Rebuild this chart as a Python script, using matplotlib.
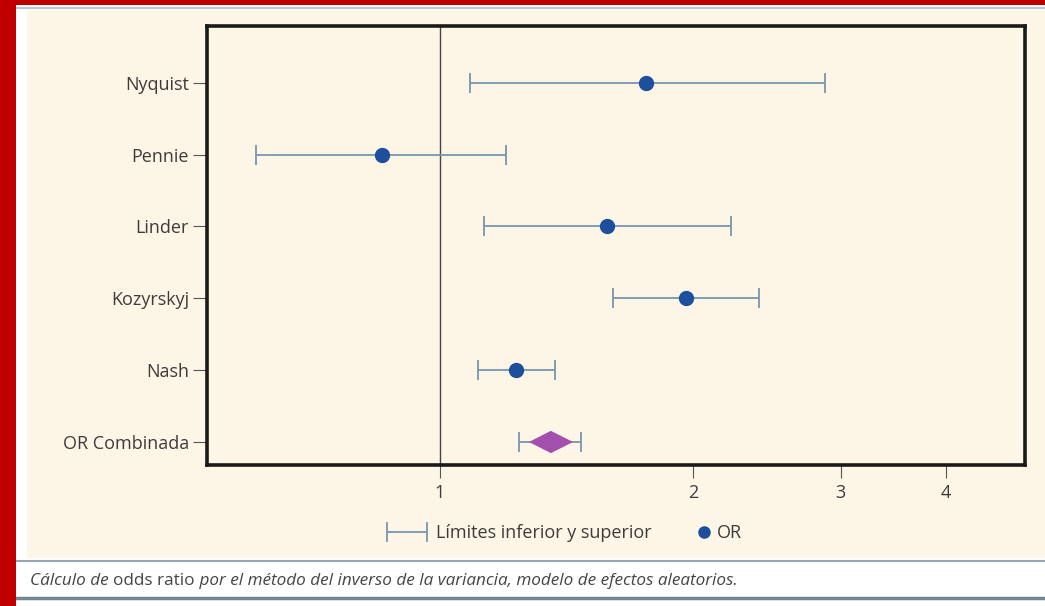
#!/usr/bin/env python3
"""Forest plot: odds ratios by study, random-effects pooled estimate."""

import matplotlib
matplotlib.use("Agg")
import matplotlib.pyplot as plt
from matplotlib.patches import Rectangle
from matplotlib.lines import Line2D
from matplotlib.container import ErrorbarContainer
from matplotlib.legend_handler import HandlerErrorbar
from matplotlib.ticker import FixedLocator, NullLocator

plt.rcParams["font.family"] = ["Open Sans", "DejaVu Sans"]

STUDIES = ["Nyquist", "Pennie", "Linder", "Kozyrskyj", "Nash", "OR Combinada"]
OR_VALUES = [1.76, 0.853, 1.58, 1.96, 1.232]
CI_LOW = [1.086, 0.604, 1.128, 1.606, 1.11, 1.242]
CI_HIGH = [2.87, 1.198, 2.22, 2.40, 1.37, 1.47]
POOLED_OR = 1.355
DIAMOND_LOW = 1.276
DIAMOND_HIGH = 1.44
X_TICKS = [1, 2, 3, 4]

CREAM = "#fdf5e6"
TEXT = "#3c3c3c"
BAR = "#7896b0"
DOT = "#1c4f9c"
DIAMOND = "#a24fae"


def main():
    fig = plt.figure(figsize=(10.45, 6.06), dpi=100)
    fig.patch.set_facecolor("white")

    # page decoration: red border, cream panel, caption rules
    fig.patches.append(Rectangle((0.026, 0.079), 0.974, 0.905, transform=fig.transFigure,
                                 facecolor=CREAM, edgecolor="none", zorder=-2))
    fig.patches.append(Rectangle((0, 0), 0.0155, 1, transform=fig.transFigure,
                                 facecolor="#c00000", edgecolor="none", zorder=-1))
    fig.patches.append(Rectangle((0, 0.991), 1, 0.009, transform=fig.transFigure,
                                 facecolor="#c00000", edgecolor="none", zorder=-1))
    fig.add_artist(Line2D([0.0155, 1], [0.986, 0.986], transform=fig.transFigure,
                          color="#b9c7d3", lw=1.5, zorder=-1))
    fig.add_artist(Line2D([0.0155, 1], [0.074, 0.074], transform=fig.transFigure,
                          color="#9aa6b2", lw=1.5, zorder=-1))
    fig.add_artist(Line2D([0.0155, 1], [0.013, 0.013], transform=fig.transFigure,
                          color="#6f8799", lw=2.5, zorder=-1))

    ax = fig.add_axes([0.1981, 0.2327, 0.7828, 0.7244])
    ax.set_facecolor(CREAM)
    ax.set_xscale("log")
    ax.set_xlim(0.528, 4.97)
    ax.set_ylim(5.32, -0.79)

    ypos = list(range(len(STUDIES)))

    ax.axvline(1, color="#444444", lw=1.0, zorder=1)

    centers = OR_VALUES + [POOLED_OR]
    xerr_lo = [o - l for o, l in zip(centers, CI_LOW)]
    xerr_hi = [h - o for o, h in zip(centers, CI_HIGH)]
    eb = ax.errorbar(centers, ypos, xerr=[xerr_lo, xerr_hi], fmt="none",
                     ecolor=BAR, elinewidth=1.3, capsize=7, capthick=1.3, zorder=2,
                     label="Límites inferior y superior")
    pts, = ax.plot(OR_VALUES, ypos[:-1], "o", color=DOT, markersize=10, zorder=3, label="OR")

    yd = ypos[-1]
    half_h = 0.155
    ax.fill([DIAMOND_LOW, POOLED_OR, DIAMOND_HIGH, POOLED_OR],
            [yd, yd - half_h, yd, yd + half_h], color=DIAMOND, lw=0, zorder=3)

    ax.set_yticks(ypos)
    ax.set_yticklabels(STUDIES, fontsize=13, color=TEXT)
    ax.xaxis.set_major_locator(FixedLocator(X_TICKS))
    ax.xaxis.set_minor_locator(NullLocator())
    ax.set_xticklabels([str(t) for t in X_TICKS], fontsize=13, color=TEXT)
    ax.tick_params(axis="y", length=10, width=0.8, color="#555555", pad=3)
    ax.tick_params(axis="x", length=9, width=0.8, color="#555555", pad=5)
    for sp in ax.spines.values():
        sp.set_linewidth(2.6)
        sp.set_color("#1a1a1a")

    # two legends so the dot sits tight against "OR" like the original
    leg1 = fig.legend([eb], ["Límites inferior y superior"], loc="center left",
                      bbox_to_anchor=(0.372, 0.120), frameon=False, fontsize=13,
                      borderpad=0, borderaxespad=0, handlelength=2.0, handletextpad=0.6,
                      handler_map={ErrorbarContainer: HandlerErrorbar(xerr_size=1.1)})
    leg2 = fig.legend([pts], ["OR"], loc="center left",
                      bbox_to_anchor=(0.667, 0.120), frameon=False, fontsize=13,
                      borderpad=0, borderaxespad=0, handlelength=0.8, handletextpad=0.3)
    leg2.legend_handles[0].set_markersize(8)
    for leg in (leg1, leg2):
        for t in leg.get_texts():
            t.set_color(TEXT)

    # caption: italic with "odds ratio" upright
    t1 = fig.text(0.029, 0.034, "Cálculo de ", fontsize=12.3, style="italic", color="#444444")
    t2 = ax.annotate("odds ratio", xy=(1, 0), xycoords=t1, va="bottom", ha="left",
                     fontsize=12.3, color="#444444", annotation_clip=False)
    ax.annotate(" por el método del inverso de la variancia, modelo de efectos aleatorios.",
                xy=(1, 0), xycoords=t2, va="bottom", ha="left", fontsize=12.3,
                style="italic", color="#444444", annotation_clip=False)

    fig.savefig("out.png", dpi=100, facecolor=fig.get_facecolor())


if __name__ == "__main__":
    main()
